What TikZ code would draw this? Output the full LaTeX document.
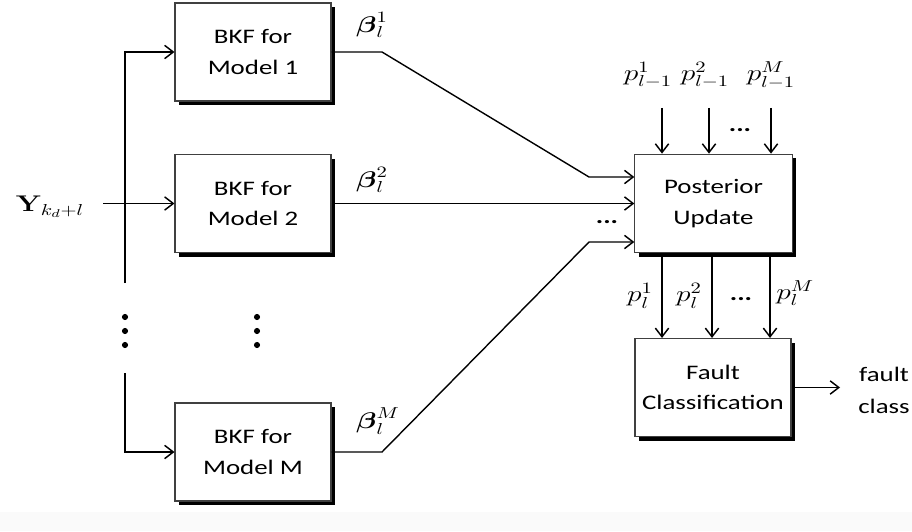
\RequirePackage{fix-cm}
\documentclass[tikz,border=0pt]{standalone}
\usepackage{amsmath}
\usepackage[no-math]{fontspec}
\setmainfont{Carlito}[FakeStretch=1.3]
\usepackage{graphicx}
\usetikzlibrary{arrows.meta,shadows}

% math labels, widened like the text face
\newcommand{\mlab}[1]{\scalebox{1.3}[1]{\fontsize{17}{19}\selectfont$#1$}}

\tikzset{
  blk/.style={draw=black!75, line width=0.8pt, fill=white,
    minimum width=117pt, minimum height=73.5pt, inner sep=0pt,
    align=center, font=\fontsize{15.5}{23}\selectfont,
    drop shadow={shadow xshift=3.2pt, shadow yshift=-3.2pt, fill=black, opacity=1}},
  conn/.style={line width=1.05pt, -{Straight Barb[length=6.5pt,width=10pt,line width=1.1pt]}},
  lbl/.style={inner sep=0pt},
  txt/.style={inner sep=0pt, align=center, font=\fontsize{15.5}{23}\selectfont},
  dotsl/.style={inner sep=0pt, font=\fontsize{16}{20}\selectfont\bfseries},
  vdot/.style={circle, fill=black, inner sep=0pt, minimum size=4.6pt},
}

\begin{document}
\begin{tikzpicture}[x=0.75pt,y=-0.75pt]
  \useasboundingbox (0,0) rectangle (912,531);
  \fill[black!2] (0,512) rectangle (912,531);

  % filter bank
  \node[blk] (b1) at (253,52) {BKF for\\Model 1};
  \node[blk] (b2) at (253,203.5) {BKF for\\Model 2};
  \node[blk] (bM) at (253,452) {BKF for\\Model M};

  % fusion and decision blocks
  \node[blk, minimum width=118pt, minimum height=74pt] (pu) at (713.5,203.5) {Posterior\\Update};
  \node[blk] (fc) at (713,387.5) {Fault\\Classification};

  % measurement input and distribution bus
  \node[lbl] (y) at (50,207) {\mlab{\mathbf{Y}_{k_d+l}}};
  \coordinate (yin) at (103,203.5);
  \draw[conn] (yin) -- (b2.west);
  \coordinate (busA) at (125,283);
  \coordinate (busB) at (125,373);
  \draw[conn] (busA) |- (b1.west);
  \draw[conn] (busB) |- (bM.west);

  % vertical ellipses
  \node[vdot] (d1) at (125,317) {};
  \node[vdot] (d2) at (125,331) {};
  \node[vdot] (d3) at (125,345) {};
  \node[vdot] (e1) at (257,317) {};
  \node[vdot] (e2) at (257,331) {};
  \node[vdot] (e3) at (257,345) {};

  % filter outputs into the posterior update
  \coordinate (k1) at (382,52);
  \coordinate (k1b) at (589,177);
  \draw[conn] (b1.east) -- (k1) -- (k1b) -- (k1b -| pu.west);
  \draw[conn] (b2.east) -- (b2.east -| pu.west);
  \coordinate (kM) at (382,452);
  \coordinate (kMb) at (589,242);
  \draw[conn] (bM.east) -- (kM) -- (kMb) -- (kMb -| pu.west);
  \node[dotsl] (bdots) at (607,222) {...};

  \node[lbl] (be1) at (372,25) {\mlab{\boldsymbol{\beta}_l^1}};
  \node[lbl] (be2) at (372,180) {\mlab{\boldsymbol{\beta}_l^2}};
  \node[lbl] (beM) at (378,421) {\mlab{\boldsymbol{\beta}_l^M}};

  % prior probabilities
  \node[lbl] (q1) at (648,75) {\mlab{p_{l-1}^1}};
  \node[lbl] (q2) at (705,75) {\mlab{p_{l-1}^2}};
  \node[lbl] (qM) at (771,75) {\mlab{p_{l-1}^M}};
  \coordinate (t1) at (662,108);
  \coordinate (t2) at (709,108);
  \coordinate (t3) at (771,108);
  \draw[conn] (t1) -- (t1 |- pu.north);
  \draw[conn] (t2) -- (t2 |- pu.north);
  \draw[conn] (t3) -- (t3 |- pu.north);
  \node[dotsl] (tdots) at (740,130) {...};

  % posterior probabilities
  \coordinate (c1) at (662,300);
  \coordinate (c2) at (712,300);
  \coordinate (c3) at (770,300);
  \draw[conn] (c1 |- pu.south) -- (c1 |- fc.north);
  \draw[conn] (c2 |- pu.south) -- (c2 |- fc.north);
  \draw[conn] (c3 |- pu.south) -- (c3 |- fc.north);
  \node[lbl, anchor=east] (r1) at (653,296) {\mlab{p_l^1}};
  \node[lbl, anchor=east] (r2) at (702,296) {\mlab{p_l^2}};
  \node[lbl, anchor=west] (rM) at (776,293) {\mlab{p_l^M}};
  \node[dotsl] (mdots) at (741,299) {...};

  % decision output
  \coordinate (out) at (840,387.5);
  \draw[conn] (fc.east) -- (out);
  \node[txt, font=\fontsize{15.5}{24}\selectfont] (fcl) at (884,390) {fault\\class};
\end{tikzpicture}
\end{document}
